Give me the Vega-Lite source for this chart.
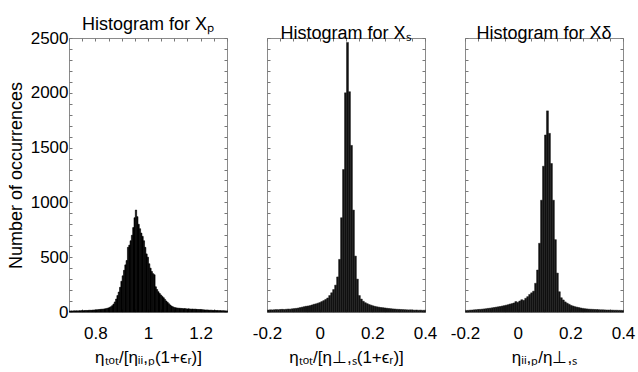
{
  "$schema": "https://vega.github.io/schema/vega-lite/v6.json",
  "background": "white",
  "padding": {"left": 6, "top": 15, "right": 0, "bottom": 0},
  "bounds": "flush",
  "spacing": 40,
  "config": {
    "font": "Liberation Sans",
    "view": {"stroke": "#8a8a8a", "strokeWidth": 1},
    "axis": {"labelFontSize": 17, "titleFontSize": 17, "labelColor": "#000", "titleColor": "#000", "titleFontWeight": "normal", "domain": false, "grid": false, "tickColor": "#777", "tickSize": -3, "labelFont": "Liberation Sans", "titleFont": "Liberation Sans", "labelFlush": false, "labelOverlap": false},
    "title": {"fontSize": 18, "fontWeight": "normal", "color": "#000", "font": "Liberation Sans", "offset": -5}
  },
  "datasets": {
    "p1": [
      {"x":0.700,"c":9},{"x":0.705,"c":10},{"x":0.710,"c":9},{"x":0.715,"c":11},{"x":0.720,"c":10},{"x":0.725,"c":11},{"x":0.730,"c":10},{"x":0.735,"c":12},{"x":0.740,"c":11},{"x":0.745,"c":13},
      {"x":0.750,"c":12},{"x":0.755,"c":13},{"x":0.760,"c":14},{"x":0.765,"c":13},{"x":0.770,"c":15},{"x":0.775,"c":16},{"x":0.780,"c":15},{"x":0.785,"c":17},{"x":0.790,"c":18},{"x":0.795,"c":19},
      {"x":0.800,"c":20},{"x":0.805,"c":21},{"x":0.810,"c":22},{"x":0.815,"c":24},{"x":0.820,"c":25},{"x":0.825,"c":26},{"x":0.830,"c":28},{"x":0.835,"c":30},{"x":0.840,"c":33},{"x":0.845,"c":37},
      {"x":0.850,"c":42},{"x":0.855,"c":48},{"x":0.860,"c":58},{"x":0.865,"c":72},{"x":0.870,"c":92},{"x":0.875,"c":118},{"x":0.880,"c":150},{"x":0.885,"c":182},{"x":0.890,"c":225},{"x":0.895,"c":280},
      {"x":0.900,"c":330},{"x":0.905,"c":380},{"x":0.910,"c":430},{"x":0.915,"c":470},{"x":0.920,"c":590},{"x":0.925,"c":610},{"x":0.930,"c":650},{"x":0.935,"c":700},{"x":0.940,"c":770},{"x":0.945,"c":860},
      {"x":0.950,"c":930},{"x":0.955,"c":870},{"x":0.960,"c":800},{"x":0.965,"c":760},{"x":0.970,"c":720},{"x":0.975,"c":690},{"x":0.980,"c":650},{"x":0.985,"c":590},{"x":0.990,"c":530},{"x":0.995,"c":500},
      {"x":1.000,"c":440},{"x":1.005,"c":400},{"x":1.010,"c":370},{"x":1.015,"c":350},{"x":1.020,"c":340},{"x":1.025,"c":230},{"x":1.030,"c":205},{"x":1.035,"c":185},{"x":1.040,"c":168},{"x":1.045,"c":155},
      {"x":1.050,"c":142},{"x":1.055,"c":130},{"x":1.060,"c":115},{"x":1.065,"c":100},{"x":1.070,"c":88},{"x":1.075,"c":75},{"x":1.080,"c":64},{"x":1.085,"c":54},{"x":1.090,"c":47},{"x":1.095,"c":42},
      {"x":1.100,"c":39},{"x":1.105,"c":37},{"x":1.110,"c":35},{"x":1.115,"c":34},{"x":1.120,"c":33},{"x":1.125,"c":32},{"x":1.130,"c":30},{"x":1.135,"c":31},{"x":1.140,"c":29},{"x":1.145,"c":28},
      {"x":1.150,"c":29},{"x":1.155,"c":27},{"x":1.160,"c":26},{"x":1.165,"c":27},{"x":1.170,"c":25},{"x":1.175,"c":26},{"x":1.180,"c":24},{"x":1.185,"c":23},{"x":1.190,"c":22},{"x":1.195,"c":23},
      {"x":1.200,"c":21},{"x":1.205,"c":20},{"x":1.210,"c":19},{"x":1.215,"c":18},{"x":1.220,"c":19},{"x":1.225,"c":17},{"x":1.230,"c":16},{"x":1.235,"c":17},{"x":1.240,"c":15},{"x":1.245,"c":14},
      {"x":1.250,"c":15},{"x":1.255,"c":13},{"x":1.260,"c":14},{"x":1.265,"c":12},{"x":1.270,"c":13},{"x":1.275,"c":11},{"x":1.280,"c":12},{"x":1.285,"c":11},{"x":1.290,"c":10},{"x":1.295,"c":10}
    ],
    "p2": [
      {"x":-0.2,"c":18},{"x":-0.1925,"c":20},{"x":-0.185,"c":19},{"x":-0.1775,"c":21},{"x":-0.17,"c":22},{"x":-0.1625,"c":21},{"x":-0.155,"c":23},{"x":-0.1475,"c":24},{"x":-0.14,"c":23},{"x":-0.1325,"c":25},
      {"x":-0.125,"c":27},{"x":-0.1175,"c":26},{"x":-0.11,"c":29},{"x":-0.1025,"c":31},{"x":-0.095,"c":33},{"x":-0.0875,"c":36},{"x":-0.08,"c":40},{"x":-0.0725,"c":44},{"x":-0.065,"c":48},{"x":-0.0575,"c":52},
      {"x":-0.05,"c":55},{"x":-0.0425,"c":58},{"x":-0.035,"c":64},{"x":-0.0275,"c":70},{"x":-0.02,"c":74},{"x":-0.0125,"c":80},{"x":-0.005,"c":86},{"x":0.0025,"c":95},{"x":0.01,"c":104},{"x":0.0175,"c":115},
      {"x":0.025,"c":128},{"x":0.0325,"c":150},{"x":0.04,"c":175},{"x":0.0475,"c":205},{"x":0.055,"c":245},{"x":0.0625,"c":320},{"x":0.07,"c":480},{"x":0.0775,"c":860},{"x":0.085,"c":1300},{"x":0.0925,"c":2000},
      {"x":0.1,"c":2460},{"x":0.1075,"c":2010},{"x":0.115,"c":1520},{"x":0.1225,"c":930},{"x":0.13,"c":510},{"x":0.1375,"c":300},{"x":0.145,"c":150},{"x":0.1525,"c":118},{"x":0.16,"c":98},{"x":0.1675,"c":85},
      {"x":0.175,"c":76},{"x":0.1825,"c":68},{"x":0.19,"c":62},{"x":0.1975,"c":56},{"x":0.205,"c":51},{"x":0.2125,"c":47},{"x":0.22,"c":44},{"x":0.2275,"c":41},{"x":0.235,"c":39},{"x":0.2425,"c":37},
      {"x":0.25,"c":34},{"x":0.2575,"c":32},{"x":0.265,"c":30},{"x":0.2725,"c":28},{"x":0.28,"c":27},{"x":0.2875,"c":25},{"x":0.295,"c":24},{"x":0.3025,"c":23},{"x":0.31,"c":22},{"x":0.3175,"c":21},
      {"x":0.325,"c":20},{"x":0.3325,"c":19},{"x":0.34,"c":20},{"x":0.3475,"c":18},{"x":0.355,"c":17},{"x":0.3625,"c":18},{"x":0.37,"c":16},{"x":0.3775,"c":17},{"x":0.385,"c":15},{"x":0.3925,"c":16}
    ],
    "p3": [
      {"x":-0.2,"c":14},{"x":-0.1925,"c":15},{"x":-0.185,"c":17},{"x":-0.1775,"c":18},{"x":-0.17,"c":20},{"x":-0.1625,"c":21},{"x":-0.155,"c":23},{"x":-0.1475,"c":24},{"x":-0.14,"c":26},{"x":-0.1325,"c":28},
      {"x":-0.125,"c":30},{"x":-0.1175,"c":33},{"x":-0.11,"c":35},{"x":-0.1025,"c":38},{"x":-0.095,"c":41},{"x":-0.0875,"c":44},{"x":-0.08,"c":47},{"x":-0.0725,"c":50},{"x":-0.065,"c":54},{"x":-0.0575,"c":58},
      {"x":-0.05,"c":62},{"x":-0.0425,"c":66},{"x":-0.035,"c":72},{"x":-0.0275,"c":76},{"x":-0.02,"c":82},{"x":-0.0125,"c":95},{"x":-0.005,"c":88},{"x":0.0025,"c":100},{"x":0.01,"c":112},{"x":0.0175,"c":106},
      {"x":0.025,"c":125},{"x":0.0325,"c":140},{"x":0.04,"c":160},{"x":0.0475,"c":175},{"x":0.055,"c":190},{"x":0.0625,"c":262},{"x":0.07,"c":383},{"x":0.0775,"c":627},{"x":0.085,"c":1020},{"x":0.0925,"c":1330},
      {"x":0.1,"c":1615},{"x":0.1075,"c":1835},{"x":0.115,"c":1630},{"x":0.1225,"c":1355},{"x":0.13,"c":1020},{"x":0.1375,"c":660},{"x":0.145,"c":355},{"x":0.1525,"c":185},{"x":0.16,"c":130},{"x":0.1675,"c":110},
      {"x":0.175,"c":92},{"x":0.1825,"c":80},{"x":0.19,"c":70},{"x":0.1975,"c":60},{"x":0.205,"c":54},{"x":0.2125,"c":48},{"x":0.22,"c":44},{"x":0.2275,"c":40},{"x":0.235,"c":36},{"x":0.2425,"c":33},
      {"x":0.25,"c":30},{"x":0.2575,"c":28},{"x":0.265,"c":26},{"x":0.2725,"c":25},{"x":0.28,"c":24},{"x":0.2875,"c":23},{"x":0.295,"c":22},{"x":0.3025,"c":21},{"x":0.31,"c":20},{"x":0.3175,"c":20},
      {"x":0.325,"c":19},{"x":0.3325,"c":18},{"x":0.34,"c":18},{"x":0.3475,"c":17},{"x":0.355,"c":17},{"x":0.3625,"c":16},{"x":0.37,"c":16},{"x":0.3775,"c":15},{"x":0.385,"c":15},{"x":0.3925,"c":14}
    ]
  },
  "hconcat": [
    {
      "width": 158, "height": 274,
      "title": {"text": "Histogram for Xₚ", "fontSize": 18},
      "data": {"name": "p1"},
      "layer": [
        {
          "mark": {"type": "bar", "fill": "#000", "stroke": "#000", "strokeWidth": 0.6, "binSpacing": 0},
          "encoding": {
            "x": {"field": "x", "type": "quantitative", "bin": {"binned": true, "step": 0.005}, "scale": {"domain": [0.7, 1.3]},
              "axis": {"orient": "bottom", "title": "ηₜₒₜ/[ηᵢᵢ,ₚ(1+ϵᵣ)]", "values": [0.7,0.75,0.8,0.85,0.9,0.95,1,1.05,1.1,1.15,1.2,1.25,1.3], "labelExpr": "abs(datum.value*5 - round(datum.value*5)) < 0.000001 ? replace(format(datum.value, '~g'), '−', '-') : ''", "labelPadding": 16, "titlePadding": 8}},
            "y": {"field": "c", "type": "quantitative", "scale": {"domain": [0, 2500], "nice": false},
              "axis": {"orient": "left", "title": "Number of occurrences", "titleFontSize": 18, "format": "d", "values": [0,100,200,300,400,500,600,700,800,900,1000,1100,1200,1300,1400,1500,1600,1700,1800,1900,2000,2100,2200,2300,2400,2500], "labelExpr": "datum.value % 500 == 0 ? datum.label : ''", "labelPadding": 4, "titlePadding": 5}}
          }
        },
        {
          "mark": {"type": "bar", "opacity": 0, "binSpacing": 0},
          "encoding": {
            "x": {"field": "x", "type": "quantitative", "bin": {"binned": true, "step": 0.005}, "scale": {"domain": [0.7, 1.3]},
              "axis": {"orient": "top", "title": null, "labels": false, "values": [0.7,0.75,0.8,0.85,0.9,0.95,1,1.05,1.1,1.15,1.2,1.25,1.3]}},
            "y": {"field": "c", "type": "quantitative", "scale": {"domain": [0, 2500], "nice": false},
              "axis": {"orient": "right", "title": null, "labels": false, "values": [0,100,200,300,400,500,600,700,800,900,1000,1100,1200,1300,1400,1500,1600,1700,1800,1900,2000,2100,2200,2300,2400,2500]}}
          }
        }
      ],
      "resolve": {"axis": {"x": "independent", "y": "independent"}}
    },
    {
      "width": 158, "height": 274,
      "title": {"text": "Histogram for Xₛ", "fontSize": 18},
      "data": {"name": "p2"},
      "layer": [
        {
          "mark": {"type": "bar", "fill": "#111", "stroke": "#1a1a1a", "strokeWidth": 0.5, "binSpacing": 0},
          "encoding": {
            "x": {"field": "x", "type": "quantitative", "bin": {"binned": true, "step": 0.0075}, "scale": {"domain": [-0.2, 0.4]},
              "axis": {"orient": "bottom", "title": "ηₜₒₜ/[η⊥,ₛ(1+ϵᵣ)]", "values": [-0.2,-0.15,-0.1,-0.05,0,0.05,0.1,0.15,0.2,0.25,0.3,0.35,0.4], "labelExpr": "abs(datum.value*5 - round(datum.value*5)) < 0.000001 ? replace(format(datum.value, '~g'), '−', '-') : ''", "labelPadding": 16, "titlePadding": 8}},
            "y": {"field": "c", "type": "quantitative", "scale": {"domain": [0, 2500], "nice": false},
              "axis": {"orient": "left", "title": null, "labels": false, "values": [0,100,200,300,400,500,600,700,800,900,1000,1100,1200,1300,1400,1500,1600,1700,1800,1900,2000,2100,2200,2300,2400,2500]}}
          }
        },
        {
          "mark": {"type": "bar", "opacity": 0, "binSpacing": 0},
          "encoding": {
            "x": {"field": "x", "type": "quantitative", "bin": {"binned": true, "step": 0.0075}, "scale": {"domain": [-0.2, 0.4]},
              "axis": {"orient": "top", "title": null, "labels": false, "values": [-0.2,-0.15,-0.1,-0.05,0,0.05,0.1,0.15,0.2,0.25,0.3,0.35,0.4]}},
            "y": {"field": "c", "type": "quantitative", "scale": {"domain": [0, 2500], "nice": false},
              "axis": {"orient": "right", "title": null, "labels": false, "values": [0,100,200,300,400,500,600,700,800,900,1000,1100,1200,1300,1400,1500,1600,1700,1800,1900,2000,2100,2200,2300,2400,2500]}}
          }
        }
      ],
      "resolve": {"axis": {"x": "independent", "y": "independent"}}
    },
    {
      "width": 158, "height": 274,
      "title": {"text": "Histogram for Xδ", "fontSize": 18},
      "data": {"name": "p3"},
      "layer": [
        {
          "mark": {"type": "bar", "fill": "#111", "stroke": "#1a1a1a", "strokeWidth": 0.5, "binSpacing": 0},
          "encoding": {
            "x": {"field": "x", "type": "quantitative", "bin": {"binned": true, "step": 0.0075}, "scale": {"domain": [-0.2, 0.4]},
              "axis": {"orient": "bottom", "title": "ηᵢᵢ,ₚ/η⊥,ₛ", "values": [-0.2,-0.15,-0.1,-0.05,0,0.05,0.1,0.15,0.2,0.25,0.3,0.35,0.4], "labelExpr": "abs(datum.value*5 - round(datum.value*5)) < 0.000001 ? replace(format(datum.value, '~g'), '−', '-') : ''", "labelPadding": 16, "titlePadding": 8}},
            "y": {"field": "c", "type": "quantitative", "scale": {"domain": [0, 2500], "nice": false},
              "axis": {"orient": "left", "title": null, "labels": false, "values": [0,100,200,300,400,500,600,700,800,900,1000,1100,1200,1300,1400,1500,1600,1700,1800,1900,2000,2100,2200,2300,2400,2500]}}
          }
        },
        {
          "mark": {"type": "bar", "opacity": 0, "binSpacing": 0},
          "encoding": {
            "x": {"field": "x", "type": "quantitative", "bin": {"binned": true, "step": 0.0075}, "scale": {"domain": [-0.2, 0.4]},
              "axis": {"orient": "top", "title": null, "labels": false, "values": [-0.2,-0.15,-0.1,-0.05,0,0.05,0.1,0.15,0.2,0.25,0.3,0.35,0.4]}},
            "y": {"field": "c", "type": "quantitative", "scale": {"domain": [0, 2500], "nice": false},
              "axis": {"orient": "right", "title": null, "labels": false, "values": [0,100,200,300,400,500,600,700,800,900,1000,1100,1200,1300,1400,1500,1600,1700,1800,1900,2000,2100,2200,2300,2400,2500]}}
          }
        }
      ],
      "resolve": {"axis": {"x": "independent", "y": "independent"}}
    }
  ]
}
